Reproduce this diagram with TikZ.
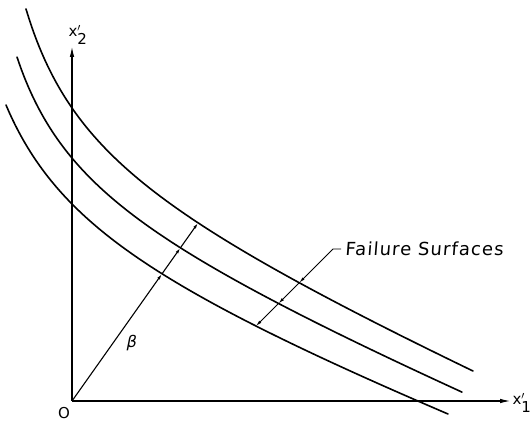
\documentclass[tikz,border=0pt]{standalone}
\usepackage{fontspec}
\usetikzlibrary{arrows.meta,intersections,calc}
\newfontfamily\lbl{DejaVu Sans}
\newfontfamily\lblit[FakeSlant=0.2]{DejaVu Sans}
\newfontfamily\lblsp[FakeSlant=0.08,LetterSpace=6]{DejaVu Sans}
\begin{document}
\begin{tikzpicture}[x=1pt,y=-1pt,
  curve/.style={line width=1.6pt,line cap=round},
  axis/.style={line width=1.4pt,-{Latex[length=11pt,width=4.5pt]}},
  dim/.style={line width=1.1pt,-{Latex[length=6pt,width=3pt]}},
  lead/.style={line width=0.9pt},
  lab/.style={inner sep=0pt,font=\lbl}]
\useasboundingbox (0,0) rectangle (531,422);
\coordinate (O) at (72,401);
\coordinate (Ytop) at (72,46);
\coordinate (Xend) at (511,401);
% axes
\draw[axis] (O) -- (Ytop);
\draw[axis] (O) -- (Xend);
% failure surfaces
\draw[curve,name path=top] plot[domain=26:473,samples=120,smooth]
  (\x,{190+0.435*\x-12694/(\x+40)});
\draw[curve,name path=mid] plot[domain=17:462,samples=120,smooth]
  (\x,{223.56+0.414*\x-11628/(\x+50)});
\draw[curve,name path=bot] plot[domain=6:448,samples=120,smooth]
  (\x,{273.7+0.3753*\x-14702/(\x+80)});
% beta line
\path[name path=beta] (O) -- ($(O)!1.15!(198,223)$);
\path[name intersections={of=beta and top,by=bt}];
\path[name intersections={of=beta and mid,by=bm}];
\path[name intersections={of=beta and bot,by=bb}];
\draw[dim] (O) -- (bb);
\draw[dim] (bb) -- (bm);
\draw[dim] (bm) -- (bt);
% leader for Failure Surfaces
\coordinate (L0) at (341,249);
\coordinate (L1) at (333,249);
\path[name path=lead] (L1) -- ($(L1)!1.2!(255,327)$);
\path[name intersections={of=lead and top,by=lt}];
\path[name intersections={of=lead and mid,by=lm}];
\path[name intersections={of=lead and bot,by=lb}];
\draw[lead,-{Latex[length=6pt,width=3pt]}] (L0) -- (L1) -- (lt);
\draw[dim,line width=0.9pt] (lt) -- (lm);
\draw[dim,line width=0.9pt] (lm) -- (lb);
% labels
\node[lab,anchor=west,font=\lblsp\fontsize{18}{20}\selectfont] (fs) at (345,249) {Failure Surfaces};
\node[lab,font=\lbl\fontsize{15}{17}\selectfont] (x2) at (78,35) {x$^{\prime}_{\hbox{2}}$};
\node[lab,font=\lbl\fontsize{15}{17}\selectfont] (x1) at (522,403) {x$^{\prime}_{\hbox{1}}$};
\node[lab,font=\lbl\fontsize{15}{17}\selectfont] (o) at (64,413) {O};
\node[lab,font=\lblit\fontsize{16}{18}\selectfont] (b) at (131,343) {β};
\end{tikzpicture}
\end{document}
